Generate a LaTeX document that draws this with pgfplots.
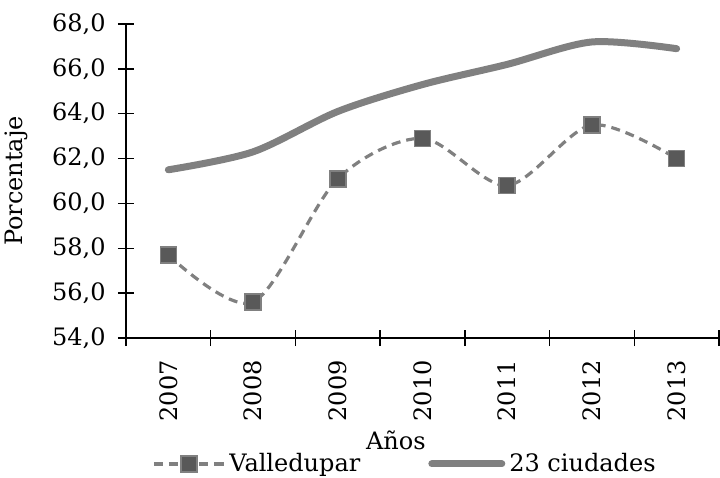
\documentclass[border=0pt]{standalone}
\usepackage{fontspec}
\setmainfont{DejaVu Serif}
\usepackage{pgfplots}
\pgfplotsset{compat=1.18}
\definecolor{lg}{HTML}{808080}
\definecolor{dg}{HTML}{595959}
\begin{document}
\fontsize{12}{14}\selectfont
\begin{tikzpicture}
\begin{axis}[
 at={(0,0)}, anchor=south west,
 scale only axis, width=296.5pt, height=157pt,
 xmin=-0.5, xmax=6.5, ymin=54, ymax=68,
 axis x line=bottom, axis y line=left,
 axis line style={-, line width=0.8pt},
 tick align=center,
 major tick length=8pt, minor tick length=8pt,
 tick style={black, line width=0.7pt},
 ytick={54,56,...,68},
 yticklabel style={xshift=-2pt, /pgf/number format/.cd, fixed, fixed zerofill, precision=1, use comma},
 /pgf/number format/assume math mode=true,
 xtick={0,...,6},
 xticklabels={2007,2008,2009,2010,2011,2012,2013},
 x tick label style={rotate=90, anchor=east},
 xticklabel shift=3pt,
 major x tick style={draw=none},
 minor xtick={-0.5,0.5,...,6.5},
 xlabel={Años}, ylabel={Porcentaje},
 ylabel shift=4pt,
 xlabel style={at={(axis description cs:0.455,-0.325)}, anchor=center},
 legend columns=2,
 legend style={draw=none, fill=none, at={(0.472,-0.401)}, anchor=center,
   /tikz/every even column/.append style={column sep=32pt}},
 legend image code/.code={\draw[mark repeat=2,mark phase=2,#1] plot coordinates {(0pt,0pt) (17.5pt,0pt) (35pt,0pt)};},
]
\addplot[lg, line width=1.6pt, dash pattern=on 4.5pt off 3pt, smooth,
  mark=square*, mark size=4pt, mark options={solid, fill=dg, draw=lg, line width=0.8pt}]
  coordinates {(0,57.7)(1,55.6)(2,61.1)(3,62.9)(4,60.8)(5,63.5)(6,62.0)};
\addlegendentry{Valledupar}
\addplot[lg, line width=3.5pt, line cap=round, smooth]
  coordinates {(0,61.5)(1,62.3)(2,64.1)(3,65.3)(4,66.2)(5,67.2)(6,66.9)};
\addlegendentry{23 ciudades}
\end{axis}
\pgfresetboundingbox
\useasboundingbox (-63pt,-70pt) rectangle (297pt,169pt);
\end{tikzpicture}
\end{document}
